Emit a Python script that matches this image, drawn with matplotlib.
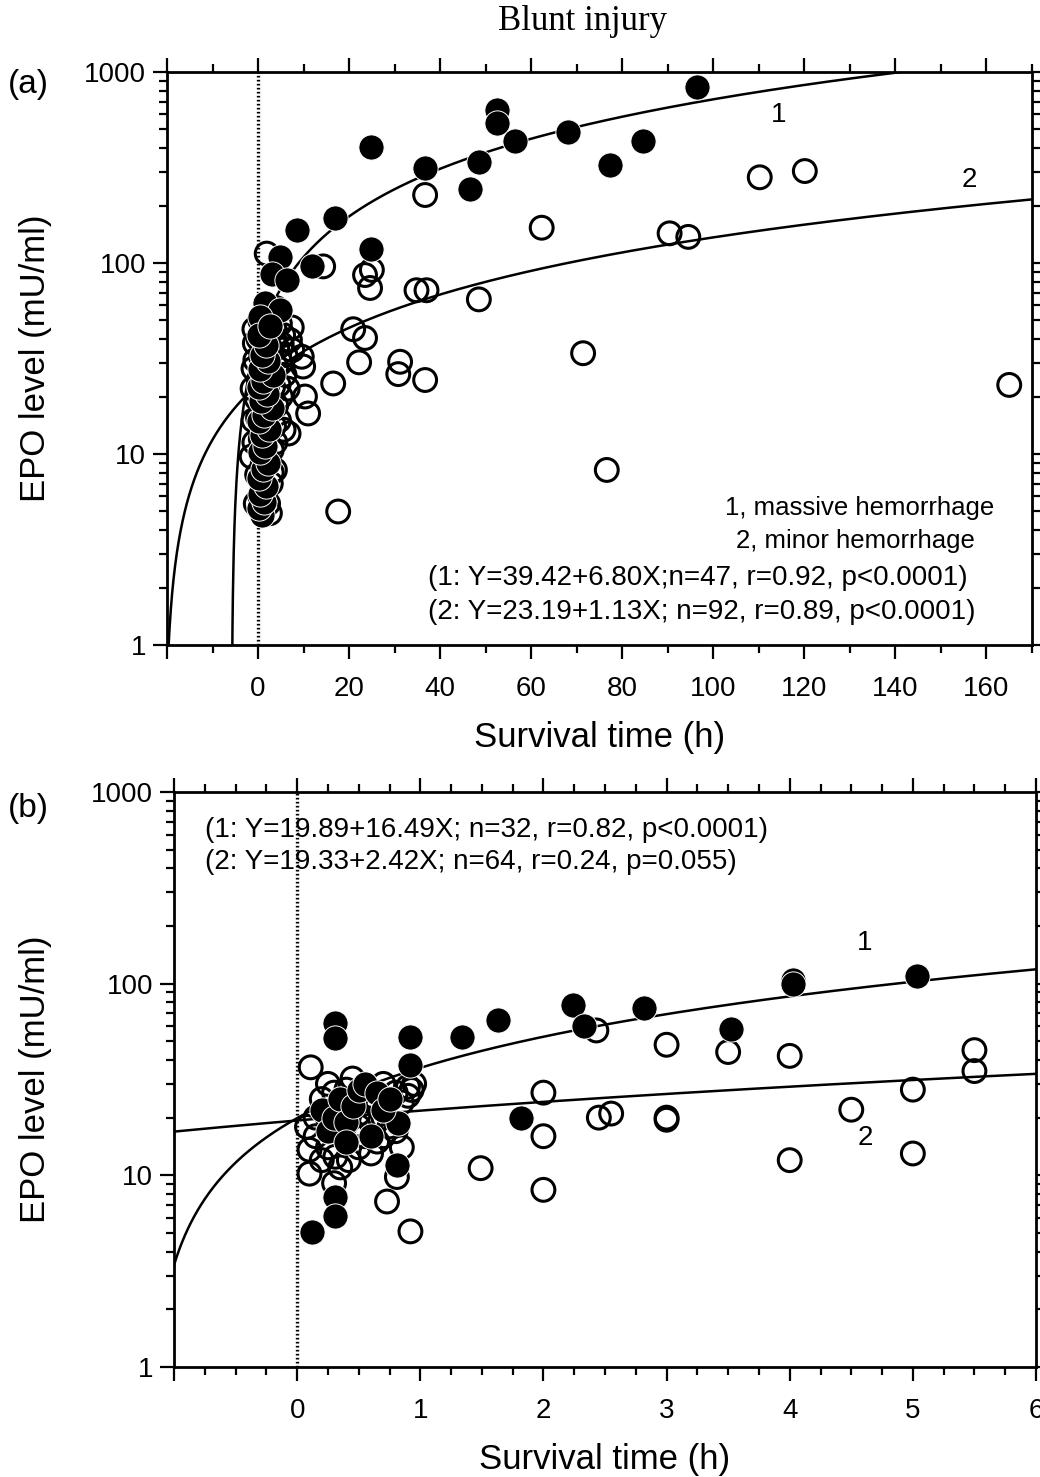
import numpy as np
import matplotlib
matplotlib.use("Agg")
import matplotlib.pyplot as plt
from matplotlib.ticker import FixedLocator, LogLocator, NullFormatter, FixedFormatter

plt.rcParams['font.family'] = ['Liberation Sans', 'DejaVu Sans']

# ---------------- Panel (a) data ----------------
a_fill_x = [24.7, 52.4, 52.4, 56.4, 68.1, 36.7, 48.5, 46.5, 16.9, 8.6, 24.7, 11.8,
            96.4, 84.6, 77.4, 4.8, 3.0, 6.3, 1.5, 4.8, 0.4, 0.8,
            0.3, 1.2, 0.5, 1.8, 0.2, 1.0, 2.2, 0.4, 1.5, 0.8, 2.5, 0.2, 1.3, 3.0,
            0.6, 2.0, 0.1, 1.1, 3.2, 0.5, 2.1, 0.9, 1.7, 0.3, 2.6]
a_fill_y = [403, 632, 539, 435, 487, 315, 339, 244, 171, 149, 119, 96,
            831, 435, 326, 108, 88, 81, 61.5, 56.7, 52.4, 4.8,
            5.2, 5.6, 6.2, 6.8, 7.5, 8.3, 9.0, 10.2, 11.0, 12.5, 13.5, 14.8, 16.0, 17.5,
            19.0, 20.5, 22.5, 24.0, 26.0, 28.0, 30.5, 33.0, 37.0, 42.0, 47.0]

a_open_x = [36.7, 62.3, 14.3, 23.5, 25.0, 24.6, 34.8, 37.0, 48.5, 20.9, 23.5, 22.2,
            31.2, 30.8, 36.7, 16.5, 71.4, 17.6, 76.6, 165.0, 110.2, 120.1, 90.4, 94.5,
            1.9, 7.4, 7.0, 9.6, 9.9, -0.7, 10.3, 11.0, 5.6, 6.7, -1.0, -1.4, 3.7, 2.6,
            -0.5, 0.5, 1.5, 2.8, -0.2, 1.0, 2.0, 3.0, -0.8, 0.6, 1.8, 3.5, 0.0, 1.2,
            2.5, 4.0, -0.3, 0.9, 2.0, 3.3, 4.5, 0.2, 1.5, 2.8, 4.0, 5.0, -0.6, 0.7,
            1.9, 3.0, 4.2, 5.2, 0.1, 1.3, 2.4, 3.6, 4.8, 0.5, 1.7, 2.9, 4.0, 5.5,
            6.0, 5.8, 5.0, 4.6, 3.8, 3.0, 2.2, -1.2, -1.0, -0.8, 6.5, 7.5]
a_open_y = [227, 153, 96, 86.5, 92, 74, 72, 72, 64.5, 45, 40.5, 30.2,
            30.4, 26.2, 24.4, 23.4, 33.7, 5.0, 8.25, 23.0, 281, 303, 143, 137,
            112, 46, 39.5, 32.3, 28.7, 38, 20, 16.3, 13.4, 12.8, 15, 9.7, 8.25, 4.9,
            5.5, 6.0, 6.5, 7.0, 7.8, 8.8, 9.5, 10.5, 11.5, 12.0, 12.8, 14.0, 15.5, 16.5,
            17.0, 18.0, 19.5, 20.0, 21.5, 22.5, 23.0, 24.5, 25.5, 27.0, 28.5, 30.0, 31.0, 32.0,
            33.5, 35.0, 36.0, 37.5, 40.0, 41.0, 43.0, 45.0, 48.0, 50.0, 52.0, 55.0, 58.0, 42.0,
            33.0, 26.0, 20.0, 15.0, 11.5, 8.0, 5.5, 22.0, 28.0, 45.0, 22.0, 35.0]

a_fit1 = (39.42, 6.80)
a_fit2 = (23.19, 1.13)
a_xticks = [-20, 0, 20, 40, 60, 80, 100, 120, 140, 160]
a_xticklabels = ["", "0", "20", "40", "60", "80", "100", "120", "140", "160"]

# ---------------- Panel (b) data ----------------
b_fill_x = [0.31, 0.31, 0.92, 1.34, 0.92, 0.82, 0.81, 0.31, 0.31, 0.12, 1.63, 2.24,
            2.33, 2.82, 3.52, 4.03, 4.03, 5.03, 1.82,
            0.2, 0.25, 0.3, 0.35, 0.4, 0.45, 0.5, 0.55, 0.6, 0.65, 0.7, 0.75, 0.4]
b_fill_y = [62, 52, 52.9, 52.9, 37.6, 18.7, 11.3, 7.7, 6.1, 5.08, 65, 77,
            60, 75, 58, 105, 100, 110, 20,
            22, 17, 20, 25, 19, 23, 28, 30, 16, 27, 22, 25, 15]

b_open_x = [0.11, 0.93, 0.08, 0.10, 0.31, 0.42, 0.10, 0.30, 0.73, 0.92, 1.49, 2.0,
            2.0, 2.0, 2.43, 2.45, 2.55, 3.0, 3.0, 3.0, 3.5, 4.0, 4.0, 4.5, 5.0, 5.0,
            5.5, 5.5,
            0.15, 0.2, 0.25, 0.3, 0.35, 0.4, 0.45, 0.5, 0.55, 0.6, 0.65, 0.7, 0.75, 0.8,
            0.85, 0.2, 0.35, 0.5, 0.6, 0.7, 0.81, 0.9, 0.25, 0.45, 0.55, 0.65, 0.3, 0.15,
            0.4, 0.5, 0.6, 0.7, 0.8, 0.85, 0.9, 0.95]
b_open_y = [36.6, 27.9, 17.9, 13.6, 12.5, 12.0, 10.2, 9.1, 7.3, 5.1, 10.9, 27,
            16, 8.4, 57, 20, 21, 48, 20, 19.5, 44, 42, 12, 22, 28, 13,
            45, 35,
            20, 25, 14, 18, 22, 28, 17, 21, 25, 19, 23, 30, 18, 27,
            24, 12, 11, 14, 13, 20, 9.8, 29, 30, 32, 16, 15, 27, 16,
            24, 18, 26, 16, 17, 14, 26, 30]

b_fit1 = (19.89, 16.49)
b_fit2 = (19.33, 2.42)
b_xticks = [-1, 0, 1, 2, 3, 4, 5, 6]
b_xticklabels = ["", "0", "1", "2", "3", "4", "5", "6"]

y_ticks = [1, 10, 100, 1000]
y_ticklabels = ["1", "10", "100", "1000"]

W, H = 1040, 1477
fig = plt.figure(figsize=(W / 100, H / 100), dpi=100)


def rect(l, r, t, b):
    return [l / W, 1 - b / H, (r - l) / W, (b - t) / H]


axa = fig.add_axes(rect(167, 1032, 72, 645))
axb = fig.add_axes(rect(174, 1036, 792, 1367))

TICK_FS = 20
LABEL_FS = 25
EQ_FS = 20
LEG_FS = 18.5


def style(ax, xlim, xticks, xlabels, minor_step, left_px, width_px):
    ax.set_yscale('log')
    ax.set_ylim(1, 1000)
    ax.set_xlim(*xlim)
    ax.yaxis.set_major_locator(FixedLocator(y_ticks))
    ax.yaxis.set_major_formatter(FixedFormatter(y_ticklabels))
    ax.yaxis.set_minor_locator(LogLocator(base=10, subs=np.arange(2, 10)))
    ax.yaxis.set_minor_formatter(NullFormatter())
    ax.xaxis.set_major_locator(FixedLocator(xticks))
    ax.xaxis.set_major_formatter(FixedFormatter(xlabels))
    ax.xaxis.set_minor_locator(FixedLocator(np.arange(xlim[0], xlim[1] + 1e-9, minor_step)))
    ax.tick_params(which='both', direction='out', top=True, right=True,
                   labelsize=TICK_FS, width=1.6, colors='black')
    ax.tick_params(which='major', length=10, pad=5)
    ax.tick_params(which='minor', length=6)
    ax.tick_params(axis='x', pad=12)
    for s in ax.spines.values():
        s.set_linewidth(2.0)
    ax.axvline(0, color='black', lw=2.4, ls=(0, (0.5, 0.7)), zorder=1)
    ax.set_xlabel("Survival time (h)", fontsize=LABEL_FS, labelpad=14)
    ax.set_ylabel("EPO level (mU/ml)", fontsize=LABEL_FS)
    ax.yaxis.set_label_coords((52 - left_px) / width_px, 0.5)


def fit_line(ax, fit, x0, x1):
    a, b = fit
    xr = -a / b
    xs = np.linspace(max(x0, xr + 1e-3), x1, 2000)
    ax.plot(xs, a + b * xs, color='black', lw=1.8, zorder=2)


def points(ax, xo, yo, xf, yf):
    ax.scatter(xo, yo, s=270, facecolors='none', edgecolors='black',
               linewidths=2.2, zorder=3, clip_on=False)
    ax.scatter(xf, yf, s=330, facecolors='black', edgecolors='white',
               linewidths=0.7, zorder=4, clip_on=False)


# Panel (a)
style(axa, (-20, 170), a_xticks, a_xticklabels, 10, 167, 865)
fit_line(axa, a_fit1, -20, 170)
fit_line(axa, a_fit2, -20, 170)
points(axa, a_open_x, a_open_y, a_fill_x, a_fill_y)
axa.text(114.4, 595, "1", fontsize=20, ha='center', va='center')
axa.text(156.3, 272, "2", fontsize=20, ha='center', va='center')

# Panel (b)
style(axb, (-1, 6), b_xticks, b_xticklabels, 0.25, 174, 862)
fit_line(axb, b_fit1, -1, 6)
fit_line(axb, b_fit2, -1, 6)
points(axb, b_open_x, b_open_y, b_fill_x, b_fill_y)
axb.text(4.61, 163, "1", fontsize=20, ha='center', va='center')
axb.text(4.61, 15.7, "2", fontsize=20, ha='center', va='center')


def ftext(px, py, s, **kw):
    fig.text(px / W, 1 - py / H, s, **kw)


ftext(860, 508, "1, massive hemorrhage", fontsize=LEG_FS, ha='center', va='center')
ftext(855, 541, "2, minor hemorrhage", fontsize=LEG_FS, ha='center', va='center')
ftext(428, 578, "(1: Y=39.42+6.80X;n=47, r=0.92, p<0.0001)", fontsize=EQ_FS, ha='left', va='center')
ftext(428, 612, "(2: Y=23.19+1.13X; n=92, r=0.89, p<0.0001)", fontsize=EQ_FS, ha='left', va='center')
ftext(205, 830, "(1: Y=19.89+16.49X; n=32, r=0.82, p<0.0001)", fontsize=EQ_FS, ha='left', va='center')
ftext(205, 862, "(2: Y=19.33+2.42X; n=64, r=0.24, p=0.055)", fontsize=EQ_FS, ha='left', va='center')

ftext(583, 22, "Blunt injury", fontsize=25, ha='center', va='center',
      family=['Liberation Serif', 'DejaVu Serif'])
ftext(8, 85, "(a)", fontsize=24, ha='left', va='center')
ftext(8, 808, "(b)", fontsize=24, ha='left', va='center')

fig.savefig("out.png", dpi=100)
